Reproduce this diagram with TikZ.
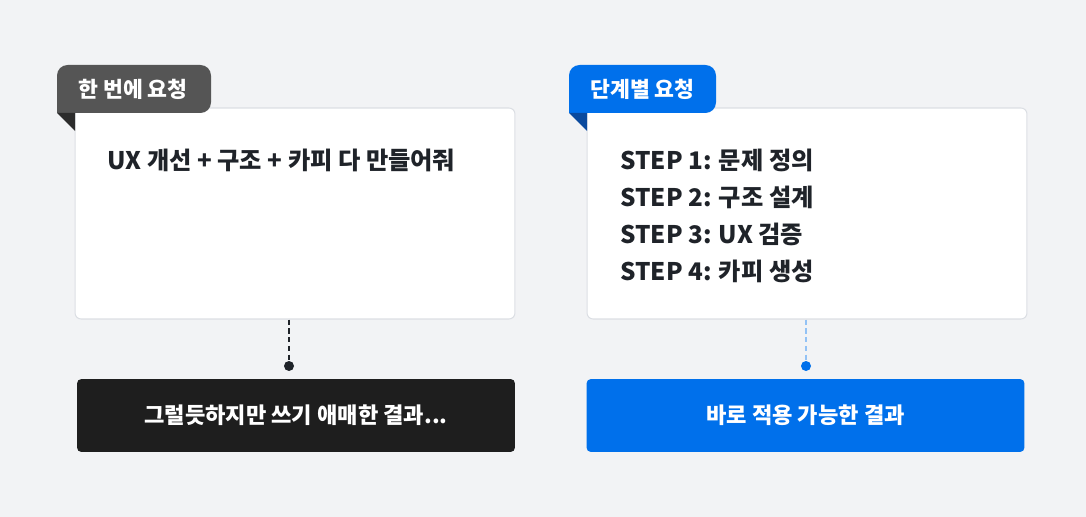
\documentclass[tikz,border=0pt]{standalone}
\usepackage{fontspec}
\setmainfont{Noto Sans CJK KR}
\definecolor{pagebg}{HTML}{F2F3F5}
\definecolor{cardline}{HTML}{DCDFE4}
\definecolor{inktext}{HTML}{1F2329}
\definecolor{taggray}{HTML}{555555}
\definecolor{foldgray}{HTML}{2C2C2C}
\definecolor{tagblue}{HTML}{0070EB}
\definecolor{foldblue}{HTML}{0A4A9E}
\definecolor{resdark}{HTML}{1E1E1E}
\definecolor{dashblue}{HTML}{93C2F5}
\begin{document}
\begin{tikzpicture}[x=0.02cm,y=-0.02cm]
        \tikzstyle{card}=[draw=cardline,line width=0.6pt,fill=white,rounded corners=3.4pt,minimum width=8.8cm,minimum height=4.22cm,inner sep=0pt]
        \tikzstyle{tagtext}=[text=white,font=\fontsize{12.3pt}{14pt}\selectfont\bfseries]
        \tikzstyle{body}=[anchor=west,text=inktext,inner sep=0pt,font=\fontsize{13.8pt}{16pt}\selectfont\bfseries]
        \tikzstyle{result}=[rounded corners=2.5pt,minimum width=8.76cm,minimum height=1.46cm,text=white,font=\fontsize{12.6pt}{14pt}\selectfont\bfseries]
        \tikzstyle{dot}=[circle,minimum size=0.2cm,inner sep=0pt]
        \tikzstyle{link}=[line width=1.1pt,dash pattern=on 3pt off 2pt]
        \fill[pagebg] (0,0) rectangle (1086,517);
        \useasboundingbox (0,0) rectangle (1086,517);
       % one-shot request
       \begin{scope}
         \node [card] (req1) at (295,213.5) {};
         \fill[taggray] (57,113) [rounded corners=6] -- (57,65) -- (211,65) -- (211,113) [sharp corners] -- cycle;
         \fill[foldgray] (57,113) -- (75,113) -- (75,131) -- cycle;
         \node [tagtext] (tag1) at (133,89) {한 번에 요청};
         \node [body] (ask1) at (107,160) {UX 개선 + 구조 + 카피 다 만들어줘};
         \node [dot,fill=inktext] (dot1) at (289,366) {};
         \draw[link,draw=inktext] (req1.south -| dot1) -- (dot1);
         \node [result,fill=resdark] (res1) at (296,415.5) {그럴듯하지만 쓰기 애매한 결과...};
        \end{scope}
       % step-by-step request
       \begin{scope}
         \node [card] (req2) at (807,213.5) {};
         \fill[tagblue] (569,113) [rounded corners=6] -- (569,65) -- (716,65) -- (716,113) [sharp corners] -- cycle;
         \fill[foldblue] (569,113) -- (587,113) -- (587,131) -- cycle;
         \node [tagtext] (tag2) at (642.5,89) {단계별 요청};
         \node [body] (step1) at (620,160) {STEP 1: 문제 정의};
         \node [body] (step2) at (620,197) {STEP 2: 구조 설계};
         \node [body] (step3) at (620,234) {STEP 3: UX 검증};
         \node [body] (step4) at (620,271) {STEP 4: 카피 생성};
         \node [dot,fill=tagblue] (dot2) at (806,366) {};
         \draw[link,draw=dashblue] (req2.south -| dot2) -- (dot2);
         \node [result,fill=tagblue] (res2) at (805.5,415.5) {바로 적용 가능한 결과};
        \end{scope}
\end{tikzpicture}
\end{document}
